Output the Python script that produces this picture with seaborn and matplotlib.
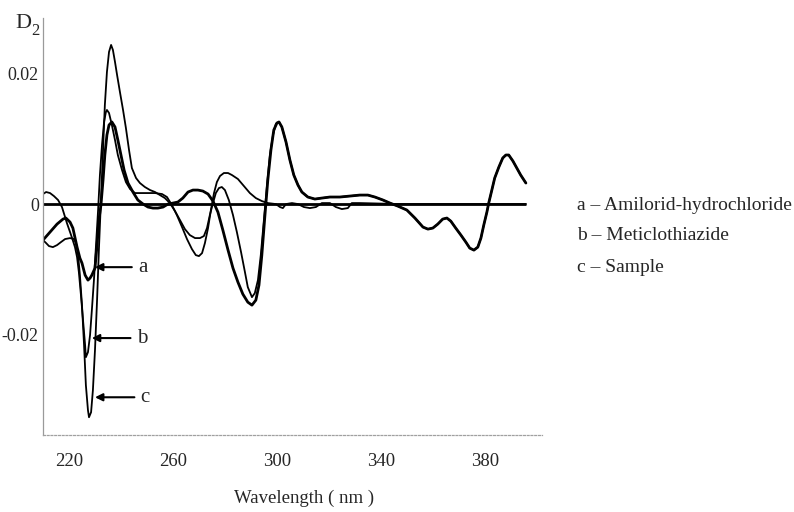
import numpy as np
import matplotlib
matplotlib.use("Agg")
import matplotlib.pyplot as plt
import seaborn as sns

# wavelengths (nm) and second-derivative values (D2, x1e-3)
wl_a = [210.0, 212.7, 215.4, 217.7, 218.8, 220.4, 221.5, 223.1, 224.2, 225.0, 226.2, 227.3,
        228.1, 228.8, 230.0, 230.8, 231.5, 232.3, 233.1, 233.8, 234.6, 235.4, 236.5, 237.7,
        238.8, 240.0, 241.2, 242.7, 244.6, 246.5, 248.5, 250.4, 252.3, 254.2, 256.2, 258.1,
        260.0, 261.9, 263.8, 265.8, 267.7, 269.6, 271.5, 273.5, 275.4, 277.3, 279.2, 281.2,
        283.1, 285.0, 286.9, 288.8, 290.4, 291.9, 293.1, 294.2, 295.4, 296.5, 297.7, 298.8,
        300.0, 300.8, 301.9, 303.5, 305.0, 306.5, 308.1, 309.6, 311.9, 314.6, 317.3, 320.4,
        324.2, 328.1, 331.9, 335.0, 337.7, 340.8, 343.5, 346.5, 350.0, 353.1, 356.2, 358.1,
        360.0, 361.9, 363.8, 365.4, 366.9, 368.8, 370.8, 372.7, 374.2, 375.8, 377.3, 378.5,
        379.6, 380.8, 381.5, 382.7, 383.8, 385.4, 386.9, 388.1, 389.2, 390.8, 392.3, 393.8,
        395.8]
d2_a = [-5.54, -4.31, -3.08, -2.31, -2.15, -2.77, -3.69, -6.62, -8.31, -9.08, -10.92, -11.69,
        -11.38, -10.92, -9.85, -6.31, -2.46, -0.15, 3.69, 7.54, 10.62, 12.15, 12.62, 11.85,
        9.85, 7.54, 5.23, 3.23, 1.85, 0.62, 0.0, -0.46, -0.62, -0.62, -0.46, 0.0,
        0.15, 0.31, 0.92, 1.85, 2.15, 2.15, 2.0, 1.54, 0.46, -1.23, -4.0, -7.08,
        -9.85, -12.0, -13.85, -15.08, -15.54, -14.77, -12.46, -7.85, -1.69, 3.69, 8.31, 11.38,
        12.46, 12.62, 11.85, 9.54, 6.77, 4.46, 2.92, 1.85, 1.08, 0.77, 0.92, 1.08,
        1.08, 1.23, 1.38, 1.38, 1.08, 0.62, 0.15, -0.31, -0.92, -2.15, -3.54, -3.85,
        -3.69, -3.08, -2.31, -2.15, -2.62, -3.69, -4.77, -5.85, -6.77, -7.08, -6.62, -5.23,
        -3.23, -1.23, 0.15, 2.15, 4.0, 5.69, 7.08, 7.54, 7.54, 6.62, 5.54, 4.46,
        3.23]

wl_b = [210.0, 211.2, 212.7, 214.2, 215.8, 217.3, 219.2, 221.2, 222.3, 223.1, 223.8, 224.6,
        225.4, 226.2, 226.5, 227.3, 228.1, 228.8, 229.6, 230.4, 231.2, 231.9, 232.7, 233.5,
        234.2, 234.6, 235.4, 236.5, 237.7, 238.8, 240.4, 241.9, 243.5, 245.4, 247.3, 250.0,
        253.1, 255.8, 257.7, 259.6, 261.5, 263.5, 265.4, 267.3, 268.8, 270.0, 271.2, 272.3,
        273.5, 274.6, 275.8, 276.9, 278.1, 279.6, 281.2, 282.7, 285.0, 287.3, 289.6, 291.9,
        294.2, 296.5, 299.6, 301.2, 302.3, 303.5, 305.8, 308.1, 310.4, 312.7, 315.0, 317.3,
        320.4, 322.7, 325.0, 327.3, 328.8, 331.9, 347.3, 395.8]
d2_b = [1.54, 1.85, 1.69, 1.23, 0.62, -0.46, -2.92, -5.23, -6.62, -8.15, -10.46, -14.0,
        -17.85, -21.69, -23.54, -22.77, -20.15, -16.31, -11.69, -6.31, -0.92, 4.46, 9.08, 12.62,
        14.15, 14.46, 14.0, 12.15, 9.85, 7.54, 5.23, 3.38, 2.31, 1.69, 1.69, 1.69,
        1.69, 1.54, 1.08, -0.15, -1.69, -3.54, -5.38, -6.92, -7.85, -8.0, -7.54, -6.0,
        -3.69, -0.92, 1.69, 3.38, 4.31, 4.77, 4.77, 4.46, 3.85, 2.77, 1.69, 0.92,
        0.46, 0.15, 0.0, -0.46, -0.62, 0.0, 0.15, 0.0, -0.46, -0.62, -0.46, 0.15,
        0.15, -0.46, -0.77, -0.62, 0.15, 0.15, 0.0, 0.0]

wl_c = [210.0, 211.2, 212.3, 213.8, 215.4, 216.9, 218.5, 220.4, 221.9, 222.7, 223.5, 224.2,
        225.0, 225.8, 226.5, 227.3, 227.7, 228.5, 229.2, 230.0, 230.8, 231.5, 232.3, 233.1,
        233.8, 234.6, 235.4, 236.2, 236.9, 237.7, 238.5, 239.6, 240.8, 241.9, 243.1, 244.2,
        245.8, 247.3, 249.2, 251.2, 253.1, 255.0, 256.9, 258.8, 260.8, 262.7, 264.6, 266.5,
        268.5, 270.4, 271.9, 273.1, 274.2, 275.4, 276.5, 277.7, 278.8, 280.0, 281.5, 283.1,
        284.6, 286.2, 287.7, 288.8, 290.4, 291.5, 292.7, 293.8, 295.0, 296.2, 297.3, 298.5,
        299.6, 300.8, 301.9, 303.5, 305.0, 306.5, 308.1, 309.6, 311.9, 314.6, 317.3, 320.4,
        324.2, 328.1, 331.9, 335.0, 337.7, 340.8, 343.5, 346.5, 350.0, 353.1, 356.2, 358.1,
        360.0, 361.9, 363.8, 365.4, 366.9, 368.8, 370.8, 372.7, 374.2, 375.8, 377.3, 378.5,
        379.6, 380.8, 381.5, 382.7, 383.8, 385.4, 386.9, 388.1, 389.2, 390.8, 392.3, 393.8,
        395.8]
d2_c = [-5.54, -6.0, -6.46, -6.62, -6.31, -5.85, -5.38, -5.23, -5.38, -6.0, -7.85, -10.92,
        -15.54, -21.69, -27.85, -31.69, -32.77, -32.0, -28.62, -22.46, -14.77, -7.08, 0.62, 8.31,
        15.23, 20.31, 23.38, 24.46, 23.69, 21.85, 19.85, 17.23, 14.46, 11.69, 8.31, 5.54,
        4.0, 3.23, 2.62, 2.15, 1.85, 1.38, 0.92, 0.15, -1.08, -2.46, -3.85, -4.77,
        -5.23, -5.23, -4.92, -3.69, -1.69, 0.15, 1.69, 2.46, 2.62, 2.15, 0.62, -1.69,
        -4.31, -7.38, -10.46, -12.77, -14.31, -13.69, -11.69, -7.85, -2.46, 2.92, 7.54, 10.62,
        12.31, 12.62, 11.85, 9.54, 6.77, 4.46, 2.92, 1.85, 1.08, 0.77, 0.92, 1.08,
        1.08, 1.23, 1.38, 1.38, 1.08, 0.62, 0.15, -0.31, -0.92, -2.15, -3.54, -3.85,
        -3.69, -3.08, -2.31, -2.15, -2.62, -3.69, -4.77, -5.85, -6.77, -7.08, -6.62, -5.23,
        -3.23, -1.23, 0.15, 2.15, 4.0, 5.69, 7.08, 7.54, 7.54, 6.62, 5.54, 4.46,
        3.23]

x_ticks = [220, 260, 300, 340, 380]
y_ticks = [0.02, 0.0, -0.02]
y_ticklabels = ["0.02", "0", "-0.02"]
legend_lines = ["a – Amilorid-hydrochloride", "b – Meticlothiazide", "c – Sample"]

# arrow tips (wavelength, D2) and label x for the a/b/c markers
arrow_tips = {"a": (230.0, -0.0097), "b": (228.8, -0.0206), "c": (230.0, -0.0297)}
arrow_text_x = {"a": 246.5, "b": 246.0, "c": 247.5}

sns.set_style("white")
plt.rcParams["font.family"] = ["Liberation Serif", "DejaVu Serif"]

fig = plt.figure(figsize=(7.94, 5.12), dpi=100)
ax = fig.add_axes([43 / 794, 1 - 435 / 512, 499 / 794, 417 / 512])

scale = 1e-3
sns.lineplot(x=wl_b, y=np.array(d2_b) * scale, ax=ax, color="black", lw=1.3)
sns.lineplot(x=wl_c, y=np.array(d2_c) * scale, ax=ax, color="black", lw=1.3)
sns.lineplot(x=wl_a, y=np.array(d2_a) * scale, ax=ax, color="black", lw=2.0)
ax.hlines(0, wl_a[0], wl_a[-1], color="black", lw=2.0)

ax.set_xlim(210, 402)
ax.set_ylim(-0.0355, 0.0286)

ax.set_xticks(x_ticks)
ax.set_xticklabels([str(t) for t in x_ticks], fontsize=13.5)
ax.set_yticks(y_ticks)
ax.set_yticklabels(y_ticklabels, fontsize=13)
ax.tick_params(axis="x", length=0, pad=13)
ax.tick_params(axis="y", length=0, pad=3)

for side in ["top", "right"]:
    ax.spines[side].set_visible(False)
ax.spines["left"].set_color("#9a9a9a")
ax.spines["left"].set_linewidth(0.9)
ax.spines["bottom"].set_color("#a0a0a0")
ax.spines["bottom"].set_linewidth(0.9)
ax.spines["bottom"].set_linestyle((0, (1.5, 1.5)))

ax.set_xlabel("Wavelength ( nm )", fontsize=13.5)
ax.xaxis.set_label_coords((304 - 43) / 499, -(490 - 435) / 417)

fig.text(15 / 794, 1 - 28 / 512, "D", fontsize=16, va="baseline", ha="left")
fig.text(31 / 794, 1 - 35 / 512, "2", fontsize=12, va="baseline", ha="left")

for key in ["a", "b", "c"]:
    tip = arrow_tips[key]
    ax.annotate(key, xy=tip, xytext=(arrow_text_x[key], tip[1]),
                fontsize=15, va="center", ha="left",
                arrowprops=dict(arrowstyle="-|>", color="black", lw=1.5,
                                mutation_scale=11, shrinkA=2, shrinkB=0))

for i, line in enumerate(legend_lines):
    fig.text(577 / 794, 1 - (205 + 31 * i) / 512, line, fontsize=14,
             va="center", ha="left")

fig.savefig("out.png", dpi=100, facecolor="white")
